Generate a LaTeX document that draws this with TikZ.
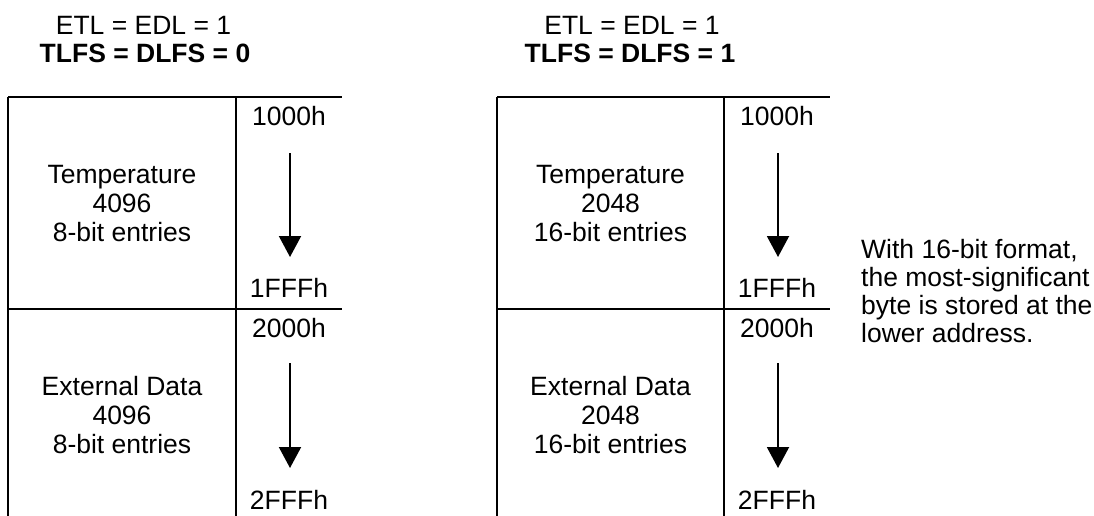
\documentclass[tikz,border=0pt]{standalone}
\usepackage{fontspec}
\setmainfont{Liberation Sans}
\usetikzlibrary{arrows.meta}
\begin{document}
\begin{tikzpicture}[x=1pt,y=-1pt,
  txt/.style={inner sep=0pt,anchor=base,font=\fontsize{26.5}{29}\selectfont},
  ltxt/.style={txt,anchor=base west},
  btxt/.style={txt,font=\fontsize{26.5}{29}\selectfont\bfseries},
  rule/.style={line width=2pt},
  flow/.style={line width=2pt,-{Triangle[width=22pt,length=21pt]}}]
\useasboundingbox (0,0) rectangle (1094,516);
% ---- titles
\node[txt]  (tl1) at (143.5,35) {ETL = EDL = 1};
\node[btxt] (tl2) at (145,63) {TLFS = DLFS = 0};
\node[txt]  (tr1) at (632,35) {ETL = EDL = 1};
\node[btxt] (tr2) at (630,63) {TLFS = DLFS = 1};
% ---- left block
\draw[rule] (8,97) -- (342,97);
\draw[rule] (8,309) -- (342,309);
\draw[rule] (8,97) -- (8,516);
\draw[rule] (236,97) -- (236,516);
\node[txt] (lt1) at (122,183) {Temperature};
\node[txt] (lt2) at (122,212) {4096};
\node[txt] (lt3) at (122,241) {8-bit entries};
\node[txt] (le1) at (122,395) {External Data};
\node[txt] (le2) at (122,424) {4096};
\node[txt] (le3) at (122,453) {8-bit entries};
\node[txt] (la1) at (289,125) {1000h};
\node[txt] (la2) at (289,297) {1FFFh};
\node[txt] (la3) at (289,337) {2000h};
\node[txt] (la4) at (289,509) {2FFFh};
\coordinate (las) at (290,153);
\coordinate (lae) at (290,257);
\coordinate (lbs) at (290,363);
\coordinate (lbe) at (290,468);
\draw[flow] (las) -- (lae);
\draw[flow] (lbs) -- (lbe);
% ---- right block
\draw[rule] (497,97) -- (830,97);
\draw[rule] (497,309) -- (830,309);
\draw[rule] (497,97) -- (497,516);
\draw[rule] (724,97) -- (724,516);
\node[txt] (rt1) at (610.5,183) {Temperature};
\node[txt] (rt2) at (610.5,212) {2048};
\node[txt] (rt3) at (610.5,241) {16-bit entries};
\node[txt] (re1) at (610.5,395) {External Data};
\node[txt] (re2) at (610.5,424) {2048};
\node[txt] (re3) at (610.5,453) {16-bit entries};
\node[txt] (ra1) at (777,125) {1000h};
\node[txt] (ra2) at (777,297) {1FFFh};
\node[txt] (ra3) at (777,337) {2000h};
\node[txt] (ra4) at (777,509) {2FFFh};
\coordinate (ras) at (778,153);
\coordinate (rae) at (778,257);
\coordinate (rbs) at (778,363);
\coordinate (rbe) at (778,468);
\draw[flow] (ras) -- (rae);
\draw[flow] (rbs) -- (rbe);
% ---- note
\node[ltxt] (n1) at (861,258) {With 16-bit format,};
\node[ltxt] (n2) at (861,286) {the most-significant};
\node[ltxt] (n3) at (861,314) {byte is stored at the};
\node[ltxt] (n4) at (861,342) {lower address.};
\end{tikzpicture}
\end{document}
